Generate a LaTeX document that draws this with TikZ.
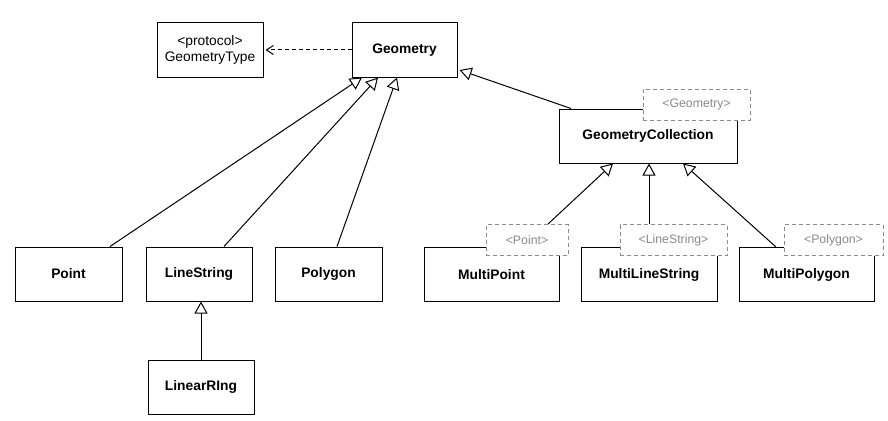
\documentclass[tikz,border=0pt]{standalone}
\usepackage{fontspec}
\setmainfont{Liberation Sans}
\usetikzlibrary{arrows.meta}
\definecolor{tgray}{HTML}{8A8A8A}
\tikzset{
  cls/.style={draw=black, line width=1pt, fill=white, minimum height=54pt, inner sep=0pt,
    font=\fontsize{13.8}{16}\selectfont\bfseries},
  proto/.style={draw=black, line width=1pt, fill=white, minimum height=54pt, inner sep=0pt,
    align=center, font=\fontsize{13.8}{16}\selectfont},
  tmpl/.style={draw=tgray, line width=1pt, dash pattern=on 4pt off 3pt, fill=white, text=tgray,
    minimum height=31pt, inner sep=0pt, font=\fontsize{12.3}{14}\selectfont},
  inh/.style={line width=1pt, -{Triangle[open, length=12pt, width=13pt, line width=1pt]}},
  dep/.style={line width=1pt, dash pattern=on 4pt off 3pt, -{Straight Barb[length=7pt, width=9pt, line width=1pt]}}
}
\begin{document}
\begin{tikzpicture}[x=1pt, y=-1pt]
\useasboundingbox[fill=white] (0,0) rectangle (888,420);
% solid class boxes
\node[proto, minimum width=106pt] (gtype) at (210,50) {<protocol>\\GeometryType};
\node[cls, minimum width=105pt] (geom) at (404.5,50) {Geometry};
\node[cls, minimum width=178pt] (gc) at (648,136) {GeometryCollection};
\node[cls, minimum width=107pt] (point) at (68.5,274) {Point};
\node[cls, minimum width=106pt] (ls) at (199,274) {LineString};
\node[cls, minimum width=107pt] (poly) at (328.5,274) {Polygon};
\node[cls, minimum width=106pt] (lr) at (201,387) {LinearRIng};
\node[cls, minimum width=135pt] (mpt) at (491.5,274.5) {MultiPoint};
\node[cls, minimum width=136pt] (mls) at (649,274.5) {MultiLineString};
\node[cls, minimum width=135pt] (mpoly) at (806.5,274.5) {MultiPolygon};
% template boxes
\node[tmpl, minimum width=107pt] (tgeom) at (696.5,104.5) {<Geometry>};
\node[tmpl, minimum width=82pt] (tpt) at (527,240) {<Point>};
\node[tmpl, minimum width=107pt] (tls) at (673.5,240) {<LineString>};
\node[tmpl, minimum width=99pt] (tpoly) at (833.5,240) {<Polygon>};
% connectors
\draw[dep] (geom.west) -- ([xshift=2pt]gtype.east);
\draw[inh] ([xshift=41.5pt]point.north) -- ([xshift=-42.5pt]geom.south);
\draw[inh] ([xshift=25pt]ls.north) -- ([xshift=-26.5pt]geom.south);
\draw[inh] ([xshift=8.5pt]poly.north) -- ([xshift=-7.5pt]geom.south);
\draw[inh] (lr.north) -- (lr.north |- ls.south);
\draw[inh] ([xshift=-77pt]gc.north) -- ([xshift=2pt,yshift=-20pt]geom.east);
\draw[inh] ([xshift=21pt]tpt.north) -- ([xshift=-35pt]gc.south);
\draw[inh] ([xshift=-24.5pt]tls.north) -- ([xshift=1pt]gc.south);
\draw[inh] ([xshift=-30.5pt]mpoly.north) -- ([xshift=35pt]gc.south);
\end{tikzpicture}
\end{document}
